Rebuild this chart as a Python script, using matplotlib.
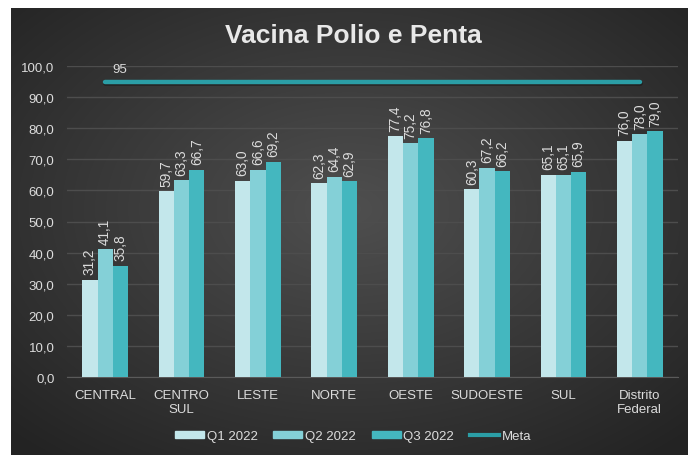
import numpy as np
import matplotlib
matplotlib.use("Agg")
import matplotlib.pyplot as plt
from matplotlib.patches import Rectangle
from matplotlib.lines import Line2D

plt.rcParams['font.family'] = ['Liberation Sans', 'DejaVu Sans']

categories = ["CENTRAL", "CENTRO\nSUL", "LESTE", "NORTE", "OESTE", "SUDOESTE", "SUL", "Distrito\nFederal"]
q1 = [31.2, 59.7, 63.0, 62.3, 77.4, 60.3, 65.1, 76.0]
q2 = [41.1, 63.3, 66.6, 64.4, 75.2, 67.2, 65.1, 78.0]
q3 = [35.8, 66.7, 69.2, 62.9, 76.8, 66.2, 65.9, 79.0]
meta = 95
series_names = ["Q1 2022", "Q2 2022", "Q3 2022"]
yticks = np.arange(0, 101, 10)

colors = ["#c3e7eb", "#84d0d7", "#44b7bf"]
meta_color = "#2b9ea6"
text_color = "#dcdcdc"

W, H = 688, 456
fig = plt.figure(figsize=(W / 100, H / 100), dpi=100, facecolor="white")

# dark panel with radial gradient
bg = fig.add_axes([11 / W, 0, 1 - 11 / W, 1 - 9 / H])
bg.set_axis_off()
yy, xx = np.mgrid[0:1:300j, 0:1:400j]
r = np.sqrt(((xx - 0.5) / 0.75) ** 2 + ((yy - 0.45) / 0.75) ** 2)
v = np.clip(0.31 - 0.18 * r, 0.14, 0.31)
img = np.dstack([v, v, v])
bg.imshow(img, aspect="auto", extent=[0, 1, 0, 1], interpolation="bicubic")
bg.set_xlim(0, 1)
bg.set_ylim(0, 1)

ax = fig.add_axes([67 / W, (H - 378) / H, (678 - 67) / W, (378 - 67) / H])
ax.set_facecolor("none")
x = np.arange(len(categories))
bw = 0.2
for i, (vals, c, name) in enumerate(zip([q1, q2, q3], colors, series_names)):
    pos = x + (i - 1) * bw
    ax.bar(pos, vals, bw, color=c, label=name, zorder=3)
    for p, val in zip(pos, vals):
        ax.text(p, val + 1.8, f"{val:.1f}".replace(".", ","), rotation=90,
                ha="center", va="bottom", color=text_color, fontsize=9.8, zorder=4)

ax.plot([x[0], x[-1]], [meta - 0.6, meta - 0.6], color="#151515", lw=3.5, alpha=0.5,
        solid_capstyle="round", zorder=2)
ax.plot([x[0], x[-1]], [meta, meta], color=meta_color, lw=3.2,
        solid_capstyle="round", label="Meta", zorder=3)
ax.text(x[0] + 0.1, meta + 2, f"{meta}", color=text_color, fontsize=9.5,
        ha="left", va="bottom")

ax.set_xlim(-0.5, len(categories) - 0.5)
ax.set_ylim(0, 100)
ax.set_yticks(yticks)
ax.set_yticklabels([f"{t:.1f}".replace(".", ",") for t in yticks])
ax.set_xticks(x)
ax.set_xticklabels(categories)
ax.tick_params(colors=text_color, labelsize=9.5, length=0)
ax.tick_params(axis="y", pad=9)
ax.tick_params(axis="x", pad=9)
ax.grid(axis="y", color="#4d4d4d", lw=1, zorder=0)
for s in ["top", "right", "left"]:
    ax.spines[s].set_visible(False)
ax.spines["bottom"].set_color("#5a5a5a")

fig.text(353 / W, 1 - 36 / H, "Vacina Polio e Penta", ha="center", va="center",
         color="#e8e8e8", fontsize=19, fontweight="bold")

handles = [Rectangle((0, 0), 1, 1, color=c) for c in colors] + \
          [Line2D([0], [0], color=meta_color, lw=3)]
leg = fig.legend(handles, series_names + ["Meta"], loc="center",
                 bbox_to_anchor=(353 / W, 1 - 437 / H), ncol=4, frameon=False,
                 fontsize=9.5, handlelength=2.2, handleheight=0.5,
                 columnspacing=1.2, handletextpad=0.2)
for t in leg.get_texts():
    t.set_color(text_color)

fig.savefig("out.png", dpi=100, facecolor="white")
